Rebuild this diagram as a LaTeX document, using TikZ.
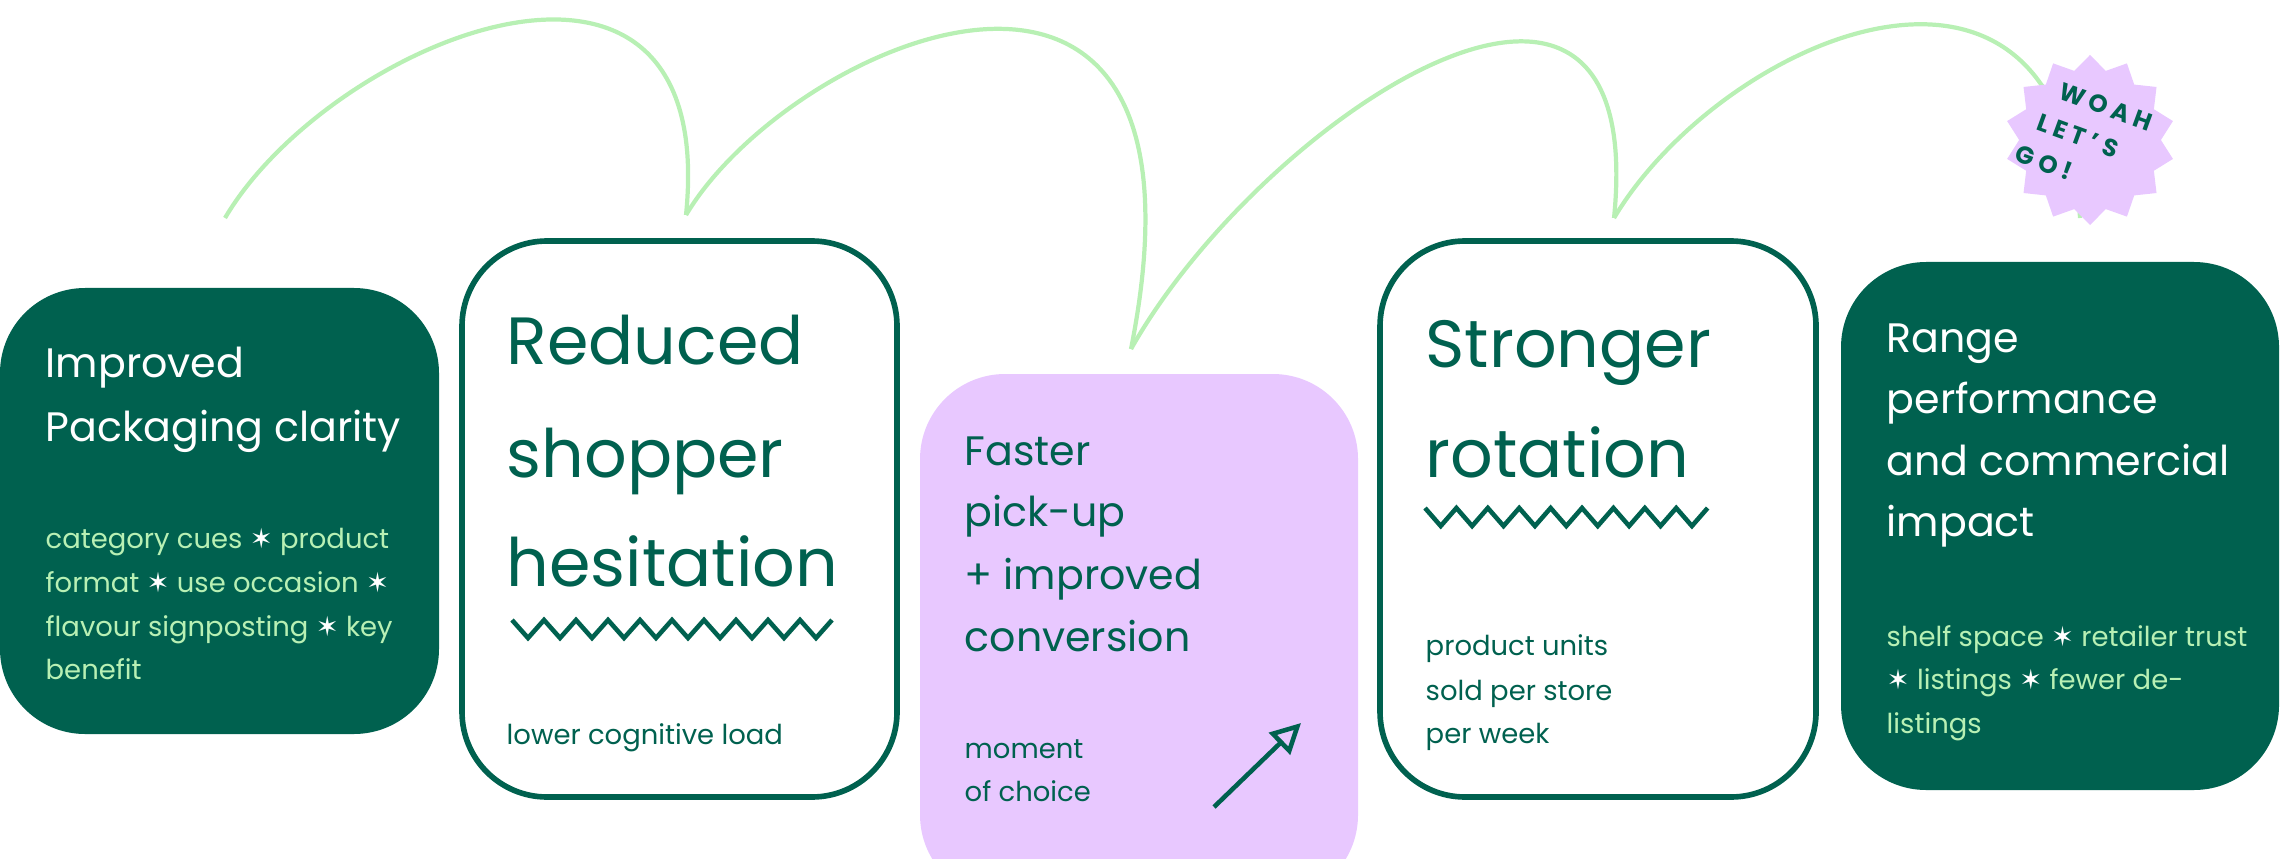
\documentclass[tikz,border=0pt]{standalone}
\usepackage{fontspec}
\setmainfont{Poppins}
\newfontfamily\symf{DejaVu Sans}
\usetikzlibrary{shapes.geometric,arrows.meta}
\definecolor{dg}{HTML}{00614F}
\definecolor{lg}{HTML}{B8F0B4}
\definecolor{pu}{HTML}{E8C8FF}
\newcommand{\st}{{\symf ✶}}
\tikzset{
  box/.style={rounded corners=0.85cm},
  big/.style={anchor=base west,text=dg,font=\fontsize{19}{22}\selectfont,inner sep=0},
  mid/.style={anchor=base west,font=\fontsize{11.7}{14}\selectfont,inner sep=0},
  small/.style={anchor=base west,font=\fontsize{7.8}{10}\selectfont,inner sep=0},
  curve/.style={draw=lg,line width=1.2pt},
  zig/.style={draw=dg,line width=1.3pt}
}
\begin{document}
\begin{tikzpicture}[x=0.01cm,y=-0.01cm]
\useasboundingbox (0,0) rectangle (2280,858);
% curves
\coordinate (c0) at (225,218);
\coordinate (c1) at (686,215);
\coordinate (c2) at (1131,349);
\coordinate (c3) at (1614,218);
\coordinate (c4) at (2080,218);
\draw[curve] (c0) .. controls (330,40) and (720,-120) .. (c1);
\draw[curve] (c1) .. controls (790,40) and (1230,-150) .. (c2);
\draw[curve] (c2) .. controls (1260,120) and (1650,-140) .. (c3);
\draw[curve] (c3) .. controls (1720,40) and (2060,-110) .. (c4);
% boxes
\fill[dg,box] (0,288) rectangle (439,734);
\draw[dg,box,line width=1.6pt,fill=white] (462,241) rectangle (897,797);
\fill[pu,box] (920,374) rectangle (1358,900);
\draw[dg,box,line width=1.6pt,fill=white] (1380,241) rectangle (1816,797);
\fill[dg,box] (1841,262) rectangle (2279,790);
% box1
\node[mid,text=white] at (45,377) {Improved};
\node[mid,text=white] at (45,441) {Packaging clarity};
\node[small,text=lg] at (45,548) {category cues {\color{white}\st} product};
\node[small,text=lg] at (45,592) {format {\color{white}\st} use occasion {\color{white}\st}};
\node[small,text=lg] at (45,636) {flavour signposting {\color{white}\st} key};
\node[small,text=lg] at (45,679) {benefit};
% box2
\node[big] at (506,364) {Reduced};
\node[big] at (506,477) {shopper};
\node[big] at (506,586) {hesitation};
\draw[zig] (512,620) \foreach \i in {1,...,10} {-- ++(16,18) -- ++(16,-18)};
\node[small,text=dg] at (506,744) {lower cognitive load};
% box3
\node[mid,text=dg] at (964,465) {Faster};
\node[mid,text=dg] at (964,526) {pick-up};
\node[mid,text=dg] at (964,589) {+ improved};
\node[mid,text=dg] at (964,651) {conversion};
\node[small,text=dg] at (964,758) {moment};
\node[small,text=dg] at (964,801) {of choice};
\coordinate (a0) at (1214,807);
\coordinate (a1) at (1301,723);
\draw[dg,line width=1.3pt,-{Triangle[open,length=0.3cm,width=0.3cm]}] (a0) -- (a1);
% box4
\node[big] at (1425,367) {Stronger};
\node[big] at (1425,477) {rotation};
\draw[zig] (1425,508) \foreach \i in {1,...,9} {-- ++(15.7,18) -- ++(15.7,-18)};
\node[small,text=dg] at (1425,655) {product units};
\node[small,text=dg] at (1425,700) {sold per store};
\node[small,text=dg] at (1425,743) {per week};
% box5
\node[mid,text=white] at (1886,352) {Range};
\node[mid,text=white] at (1886,413) {performance};
\node[mid,text=white] at (1886,475) {and commercial};
\node[mid,text=white] at (1886,536) {impact};
\node[small,text=lg] at (1886,646) {shelf space {\color{white}\st} retailer trust};
\node[small,text=lg] at (1886,689) {{\color{white}\st} listings {\color{white}\st} fewer de-};
\node[small,text=lg] at (1886,733) {listings};
% badge
\node[star,star points=14,star point ratio=1.2,fill=pu,minimum size=1.7cm,inner sep=0] (badge) at (2090,140) {};
\node[rotate=-20,text=dg,align=left,font=\bfseries\fontsize{7}{10.5}\selectfont\addfontfeature{LetterSpace=22}] at (2084,138) {\hspace*{0.8em}WOAH\\\hspace*{0.4em}LET’S\\GO!};
\end{tikzpicture}
\end{document}
